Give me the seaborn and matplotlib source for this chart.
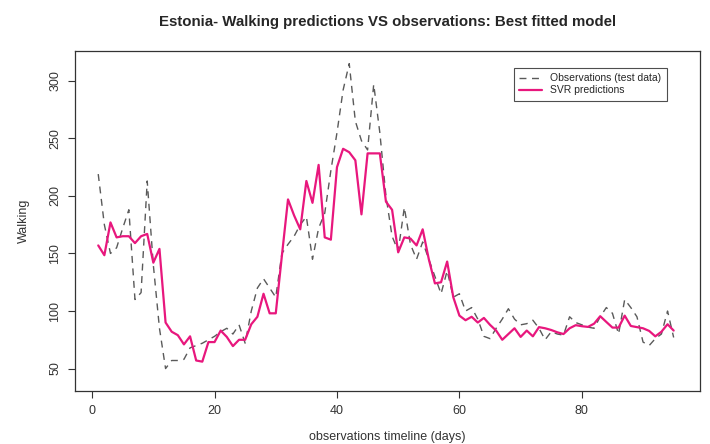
import numpy as np
import pandas as pd
import seaborn as sns
import matplotlib
matplotlib.use("Agg")
import matplotlib.pyplot as plt

# days of the test period
days = list(range(1, 96))

# observed walking index (test data)
observed = [219, 175, 150, 155, 172, 188, 110, 116, 213, 140,
            85, 50, 57, 57, 58, 68, 70, 72, 75, 78,
            82, 85, 80, 88, 72, 100, 120, 128, 120, 112,
            150, 158, 165, 175, 182, 145, 172, 185, 222, 255,
            292, 315, 265, 248, 240, 297, 255, 200, 165, 152,
            190, 158, 145, 160, 145, 130, 115, 135, 112, 115,
            100, 103, 93, 78, 76, 85, 93, 102, 93, 88,
            89, 92, 85, 75, 82, 80, 79, 95, 90, 88,
            86, 85, 95, 103, 98, 80, 110, 103, 95, 73,
            70, 76, 80, 100, 77]

# SVR predictions
predicted = [157, 148.5, 177, 164, 165, 165, 159, 165, 167, 142,
             154, 90, 82, 79, 71, 78, 57, 56, 73, 73,
             83, 77.5, 69.5, 75, 75, 88.5, 95, 115, 98, 98,
             148, 197, 183, 171, 213, 194, 227, 164, 162, 225,
             241, 238, 231, 184, 237, 237, 237, 195, 188, 151,
             164, 163, 157, 171, 145, 124, 125, 143, 112, 96,
             92, 95, 90, 94, 88, 83, 75, 80, 85, 77.5,
             83, 78, 86, 85, 83.5, 81.5, 80, 85, 87.7, 86.8,
             86.2, 89, 95.5, 90.5, 85.6, 85.6, 96, 87, 86, 85,
             82.7, 78, 82, 88.5, 83]

x_ticks = [0, 20, 40, 60, 80]
y_ticks = [50, 100, 150, 200, 250, 300]

df = pd.DataFrame({"day": days, "obs": observed, "svr": predicted})

sns.set_style("ticks")
plt.rcParams["font.family"] = ["Liberation Sans", "DejaVu Sans"]

fig = plt.figure(figsize=(7.1, 4.44), dpi=100)
ax = fig.add_axes([0.1056, 0.1194, 0.8803, 0.7658])

sns.lineplot(data=df, x="day", y="obs", ax=ax, color="#5a5a5a", linewidth=1.0,
             dashes=False, label="Observations (test data)")
ax.lines[0].set_dashes((5, 4))
sns.lineplot(data=df, x="day", y="svr", ax=ax, color="#e8177d", linewidth=1.6,
             label="SVR predictions")

ax.set_xlim(-2.8, 99.3)
ax.set_ylim(30.5, 326)
ax.set_xticks(x_ticks)
ax.set_yticks(y_ticks)
ax.set_yticklabels([str(v) for v in y_ticks], rotation=90, va="center")
ax.tick_params(axis="both", direction="out", length=5, width=0.8,
               labelsize=9, colors="#333333", pad=5)

for s in ax.spines.values():
    s.set_visible(True)
    s.set_color("#333333")
    s.set_linewidth(0.9)

ax.set_xlabel("observations timeline (days)", fontsize=9, color="#333333", labelpad=10)
ax.set_ylabel("Walking", fontsize=9, color="#333333", labelpad=14)
ax.set_title("Estonia- Walking predictions VS observations: Best fitted model",
             fontsize=10.8, fontweight="bold", pad=18)

leg = ax.legend(loc="upper right", bbox_to_anchor=(0.955, 0.965), fontsize=7.5,
                frameon=True, fancybox=False, handlelength=2.2, borderpad=0.5,
                labelspacing=0.2)
leg.get_frame().set_edgecolor("#222222")
leg.get_frame().set_linewidth(0.8)

fig.savefig("out.png", dpi=100)
